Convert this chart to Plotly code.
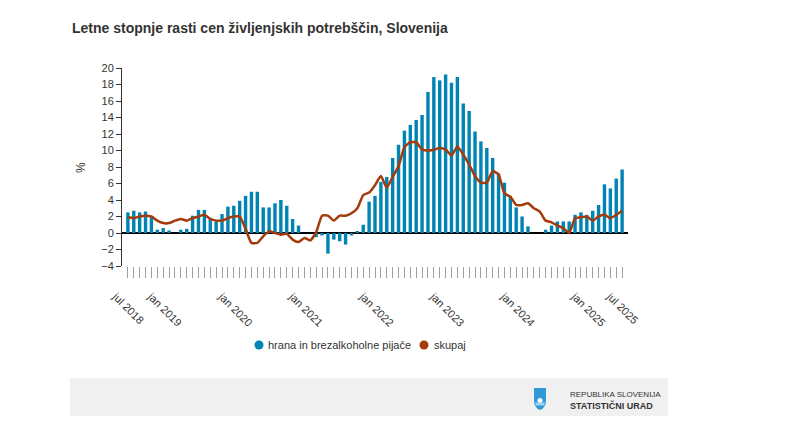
import pandas as pd
import plotly.graph_objects as go

# ---- data ----
months = [p.strftime("%Y-%m") for p in pd.period_range("2018-07", "2025-07", freq="M")]

food = [2.5, 2.7, 2.5, 2.6, 1.9, 0.4, 0.6, 0.3, 0.0, 0.4, 0.5, 2.1,
        2.8, 2.8, 1.7, 1.4, 2.3, 3.2, 3.3, 3.9, 4.5, 5.0, 5.0, 3.1,
        3.1, 3.6, 4.0, 3.3, 1.7, 0.9, 0.0, 0.0, -0.5, -0.3, -2.5, -0.8,
        -1.0, -1.4, -0.3, 0.2, 1.0, 3.8, 4.5, 6.2, 6.8, 9.1, 10.7, 12.4,
        13.1, 13.7, 14.3, 17.1, 18.9, 18.5, 19.2, 18.2, 18.9, 15.7, 14.8, 12.3,
        11.1, 10.3, 9.1, 7.2, 6.1, 4.5, 3.1, 2.0, 0.8, 0.0, 0.0, 0.4,
        0.9, 1.4, 1.4, 1.4, 2.2, 2.5, 2.2, 2.7, 3.4, 5.9, 5.4, 6.6,
        7.7]

total = [1.9, 1.8, 2.0, 2.1, 2.0, 1.5, 1.2, 1.2, 1.5, 1.7, 1.5, 1.8,
         2.0, 2.2, 1.7, 1.5, 1.5, 1.8, 2.0, 2.0, 0.5, -1.2, -1.2, -0.4,
         0.2, 0.0, -0.2, -0.1, -0.8, -1.1, -0.6, -0.9, 0.1, 2.1, 2.1, 1.5,
         2.1, 2.1, 2.4, 3.0, 4.6, 4.9, 5.8, 6.9, 5.5, 6.8, 8.1, 10.4,
         11.0, 11.0, 10.1, 10.0, 10.1, 10.3, 10.1, 9.4, 10.5, 9.5, 8.3, 6.9,
         6.1, 6.1, 7.5, 7.1, 4.8, 4.4, 3.4, 3.4, 3.6, 3.0, 2.6, 1.5,
         1.3, 0.9, 0.6, 0.0, 1.8, 1.9, 2.0, 1.5, 2.0, 2.2, 1.8, 2.2,
         2.7]

tick_months = ["2018-07", "2019-01", "2020-01", "2021-01", "2022-01",
               "2023-01", "2024-01", "2025-01", "2025-07"]
tick_labels = ["jul 2018", "jan 2019", "jan 2020", "jan 2021", "jan 2022",
               "jan 2023", "jan 2024", "jan 2025", "jul 2025"]

series_names = ["hrana in brezalkoholne pijače", "skupaj"]
y_ticks = [-4, -2, 0, 2, 4, 6, 8, 10, 12, 14, 16, 18, 20]

BLUE = "#0084b4"
BROWN = "#a33b0b"
FONT = "Liberation Sans, Arial, sans-serif"

W, H = 797, 427
L, R, T, B = 122, 797 - 628, 68, 427 - 266
PW, PH = W - L - R, H - T - B


def px(x):
    return (x - L) / PW


def py(y):
    return (H - B - y) / PH


label_map = dict(zip(tick_months, tick_labels))
ticktext = [label_map.get(m, "") for m in months]

fig = go.Figure()
fig.add_trace(go.Bar(x=months, y=food, marker_color=BLUE, marker_line_width=0,
                     name=series_names[0], showlegend=False))
fig.add_trace(go.Scatter(x=months, y=total, mode="lines",
                         line=dict(color=BROWN, width=2.5, shape="spline", smoothing=0.5),
                         name=series_names[1], showlegend=False))

fig.update_layout(
    width=W, height=H,
    margin=dict(l=L, r=R, t=T, b=B, autoexpand=False),
    paper_bgcolor="white", plot_bgcolor="white",
    font=dict(family=FONT, size=11, color="#333333"),
    bargap=0.42,
    showlegend=False,
    xaxis=dict(type="category", range=[-1, 85], tickmode="array",
               tickvals=months, ticktext=ticktext, tickangle=45,
               ticks="outside", ticklen=11, tickwidth=1, tickcolor="#a0a0a0",
               ticklabelshift=-12, ticklabelstandoff=8,
               showgrid=False, showline=False, zeroline=False,
               tickfont=dict(size=11, color="#333333")),
    yaxis=dict(range=[-4, 20], tickmode="array", tickvals=y_ticks,
               ticks="outside", ticklen=5, tickcolor="#333333", tickwidth=1,
               showline=True, linecolor="#333333", linewidth=1,
               showgrid=False, zeroline=True, zerolinecolor="#000000", zerolinewidth=1.5,
               layer="above traces", tickfont=dict(size=11, color="#333333")),
)

# title
fig.add_annotation(text="<b>Letne stopnje rasti cen življenjskih potrebščin, Slovenija</b>",
                   xref="paper", yref="paper", x=px(70), y=py(28), xanchor="left", yanchor="middle",
                   showarrow=False, font=dict(size=14, color="#333333", family=FONT))
# y axis title
fig.add_annotation(text="%", textangle=-90, xref="paper", yref="paper", x=px(81), y=py(168),
                   xanchor="center", yanchor="middle", showarrow=False,
                   font=dict(size=12, color="#333333", family=FONT))

# legend (round symbols)
legend_items = [(259, 266, series_names[0], BLUE), (424, 432, series_names[1], BROWN)]
for cx, tx, name, col in legend_items:
    fig.add_shape(type="circle", xref="paper", yref="paper",
                  x0=px(cx - 4.5), x1=px(cx + 4.5), y0=py(345 - 4.5), y1=py(345 + 4.5),
                  fillcolor=col, line_width=0)
    fig.add_annotation(text=name, xref="paper", yref="paper", x=px(tx), y=py(345),
                       xanchor="left", yanchor="middle", showarrow=False,
                       font=dict(size=11, color="#333333", family=FONT))

# footer band
fig.add_shape(type="rect", xref="paper", yref="paper", x0=px(70), x1=px(668),
              y0=py(378), y1=py(416), fillcolor="#f0f0f0", line_width=0, layer="below")


def P(x, y):
    return f"{px(x):.5f},{py(y):.5f}"


shield = (f"M {P(534, 388)} L {P(546, 388)} L {P(546, 400)} "
          f"Q {P(546, 408)} {P(540, 410)} Q {P(534, 408)} {P(534, 400)} Z")
fig.add_shape(type="path", xref="paper", yref="paper", path=shield,
              fillcolor="#2f9ad6", line_width=0)
fig.add_shape(type="circle", xref="paper", yref="paper",
              x0=px(537.5), x1=px(542.5), y0=py(398), y1=py(403),
              fillcolor="white", line_width=0)
fig.add_shape(type="path", xref="paper", yref="paper",
              path=f"M {P(535.5, 402.5)} L {P(544.5, 402.5)} L {P(544.5, 405.5)} L {P(535.5, 405.5)} Z",
              fillcolor="#9fd3f0", line_width=0)

fig.add_annotation(text="REPUBLIKA SLOVENIJA", xref="paper", yref="paper",
                   x=px(568), y=py(394), xanchor="left", yanchor="middle", showarrow=False,
                   font=dict(size=8, color="#333333", family=FONT))
fig.add_annotation(text="<b>STATISTIČNI URAD</b>", xref="paper", yref="paper",
                   x=px(568), y=py(405), xanchor="left", yanchor="middle", showarrow=False,
                   font=dict(size=9, color="#333333", family=FONT))

fig.write_html("out.html", config={"displayModeBar": False},
               post_script="document.body.style.margin='0px';")
